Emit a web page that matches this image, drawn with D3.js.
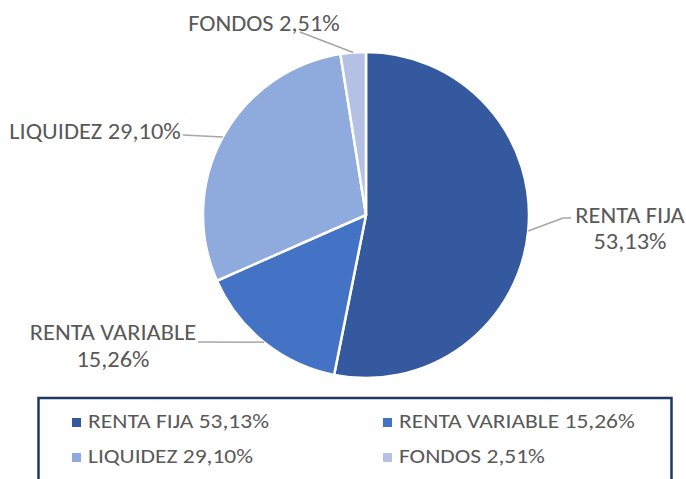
<!DOCTYPE html>
<html><head><meta charset="utf-8">
<script src="https://cdn.jsdelivr.net/npm/d3@7"></script>
<style>body{margin:0;background:#fff;} svg{display:block;}</style>
</head><body>
<svg id="chart" width="686" height="479"></svg>
<script>
const categories = ["RENTA FIJA", "RENTA VARIABLE", "LIQUIDEZ", "FONDOS"];
const values = [53.13, 15.26, 29.10, 2.51];
const valueLabels = ["53,13%", "15,26%", "29,10%", "2,51%"];
const colors = ["#34599F", "#4472C4", "#8FAADC", "#B4C1E4"];

const svg = d3.select("#chart");
const cx = 366, cy = 215, R = 163;
const font = "Carlito, Calibri, Lato, sans-serif";
const textColor = "#595959";

const data = categories.map((c, i) => ({ name: c, value: values[i], label: valueLabels[i], color: colors[i] }));
const pie = d3.pie().value(d => d.value).sort(null);
const arcs = pie(data);
const arc = d3.arc().innerRadius(0).outerRadius(R);

const g = svg.append("g").attr("transform", `translate(${cx},${cy})`);
g.selectAll("path").data(arcs).join("path")
  .attr("d", arc).attr("fill", d => d.data.color)
  .attr("stroke", "#fff").attr("stroke-width", 2.5).attr("stroke-linejoin", "round");

function stretchedText(parent, x, y, str, size, sx, anchor) {
  parent.append("g").attr("transform", `translate(${x},${y}) scale(${sx},1)`)
    .append("text").attr("x", 0).attr("y", 0)
    .attr("text-anchor", anchor).attr("font-family", font).attr("font-size", size)
    .attr("fill", textColor).text(str);
}

// label layout
const labelSpec = [
  { lines: ["RENTA FIJA", "53,13%"], tx: 630, ty: [223, 249], elbow: [[563, 218], [571, 218]] },
  { lines: ["RENTA VARIABLE", "15,26%"], tx: 113, ty: [340, 367], elbow: [[198, 342]] },
  { lines: ["LIQUIDEZ 29,10%"], tx: 95, ty: [139], elbow: [[183, 135]] },
  { lines: ["FONDOS 2,51%"], tx: 264, ty: [31], elbow: [[300, 32]] }
];

arcs.forEach((a, i) => {
  const mid = (a.startAngle + a.endAngle) / 2;
  const px = cx + R * Math.sin(mid), py = cy - R * Math.cos(mid);
  const spec = labelSpec[i];
  const pts = [[px, py]].concat(spec.elbow);
  svg.append("path").attr("d", d3.line()(pts))
    .attr("fill", "none").attr("stroke", "#A6A6A6").attr("stroke-width", 1.5);
  spec.lines.forEach((ln, j) => stretchedText(svg, spec.tx, spec.ty[j], ln, 22, 1.11, "middle"));
});

// legend
svg.append("rect").attr("x", 38.5).attr("y", 398).attr("width", 633).attr("height", 100)
  .attr("fill", "none").attr("stroke", "#1F3864").attr("stroke-width", 2.5);

const legX = [72, 383], legY = [428, 463];
data.forEach((d, i) => {
  const col = i % 2, row = Math.floor(i / 2);
  const lg = svg.append("g").attr("transform", `translate(${legX[col]},${legY[row]})`);
  lg.append("rect").attr("x", 0).attr("y", -10).attr("width", 9).attr("height", 9).attr("fill", d.color);
  stretchedText(lg, 16, 0, `${d.name} ${d.label}`, 21, 1.12, "start");
});
</script>
</body></html>
